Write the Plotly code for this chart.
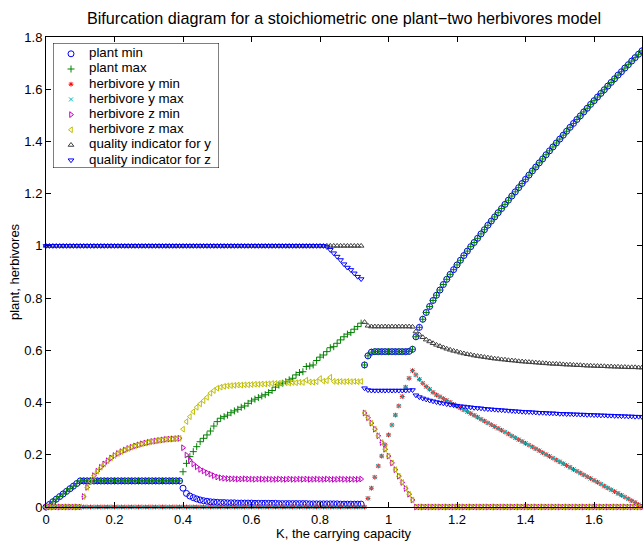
import plotly.graph_objects as go

# ---------------- data ----------------
K = [round(i * 0.01, 2) for i in range(175)]  # K = 0.00 ... 1.74

PLANT_MIN = (
    [0.00, 0.01, 0.02, 0.03, 0.04, 0.05, 0.06, 0.07, 0.08, 0.09, 0.10]
    + [0.10] * 29
    + [0.072, 0.052, 0.042, 0.036, 0.031, 0.027, 0.024, 0.022, 0.020, 0.019,
       0.018, 0.017, 0.017, 0.016, 0.016, 0.016, 0.015, 0.015, 0.015, 0.015,
       0.015, 0.014, 0.014, 0.014, 0.014, 0.014, 0.014, 0.014, 0.013, 0.013,
       0.013, 0.013, 0.013, 0.013, 0.013, 0.013, 0.013, 0.012, 0.012, 0.012,
       0.012, 0.012, 0.012, 0.012, 0.012, 0.012, 0.011, 0.011, 0.011, 0.011,
       0.011, 0.011, 0.011]
    + [0.544, 0.579, 0.593] + [0.595] * 10 + [0.596, 0.604]
    + [0.652, 0.688, 0.719, 0.745, 0.768, 0.791, 0.811, 0.831, 0.852, 0.872,
       0.891, 0.909, 0.927, 0.945, 0.963, 0.980, 0.997, 1.013, 1.029, 1.046,
       1.062, 1.079, 1.095, 1.111, 1.127, 1.143, 1.159, 1.175, 1.191, 1.207,
       1.223, 1.239, 1.255, 1.271, 1.287, 1.302, 1.318, 1.333, 1.349, 1.364,
       1.379, 1.394, 1.409, 1.424, 1.439, 1.454, 1.469, 1.484, 1.498, 1.513,
       1.527, 1.542, 1.556, 1.570, 1.584, 1.598, 1.612, 1.626, 1.640, 1.654,
       1.667, 1.681, 1.694, 1.708, 1.721, 1.734, 1.747]
)

PLANT_MAX = (
    PLANT_MIN[:40]
    + [0.135, 0.167, 0.193, 0.212, 0.231, 0.250, 0.263, 0.276, 0.291, 0.310,
       0.327, 0.340, 0.346, 0.352, 0.361, 0.368, 0.374, 0.382, 0.387, 0.397,
       0.406, 0.413, 0.419, 0.425, 0.430, 0.438, 0.446, 0.459, 0.467, 0.474,
       0.480, 0.487, 0.493, 0.506, 0.515, 0.518, 0.538, 0.540, 0.544, 0.561,
       0.574, 0.582, 0.595, 0.610, 0.614, 0.627, 0.640, 0.652, 0.662, 0.668,
       0.681, 0.691, 0.704]
    + PLANT_MIN[93:]
)

HERB_Y_MIN = (
    [0.0] * 94
    + [0.033, 0.072, 0.114, 0.157, 0.195, 0.238, 0.276, 0.314, 0.352, 0.387,
       0.423, 0.459, 0.493, 0.522]
    + [0.506, 0.489, 0.474, 0.461, 0.451, 0.439, 0.429,
       0.422, 0.415, 0.408, 0.401, 0.393, 0.386, 0.379, 0.372, 0.365, 0.358,
       0.351, 0.344, 0.336, 0.329, 0.322, 0.315, 0.308, 0.301, 0.294, 0.287,
       0.280, 0.272, 0.265, 0.258, 0.251, 0.244, 0.237, 0.230, 0.223, 0.216,
       0.208, 0.201, 0.194, 0.187, 0.180, 0.173, 0.166, 0.159, 0.152, 0.144,
       0.137, 0.130, 0.123, 0.116, 0.109, 0.102, 0.095, 0.088, 0.080, 0.073,
       0.066, 0.059, 0.052, 0.045, 0.038, 0.031, 0.024, 0.017, 0.009, 0.002]
)
HERB_Y_MAX = list(HERB_Y_MIN)

Z_LOW_BRANCH = [0.040, 0.075, 0.098, 0.120, 0.137, 0.152, 0.165, 0.177, 0.188, 0.197,
                0.205, 0.212, 0.218, 0.224, 0.229, 0.234, 0.238, 0.242, 0.245, 0.248,
                0.251, 0.253, 0.255, 0.257, 0.259, 0.260, 0.261, 0.262, 0.263]
Z_DROP_BRANCH = [0.360, 0.342, 0.321, 0.298, 0.273, 0.247, 0.221, 0.195, 0.169, 0.143,
                 0.118, 0.094, 0.071, 0.049, 0.027]

HERB_Z_MIN = (
    [0.0] * 11 + Z_LOW_BRANCH
    + [0.227, 0.199, 0.180, 0.165, 0.154, 0.144, 0.138, 0.131, 0.126, 0.120,
       0.115, 0.112, 0.110, 0.109, 0.108, 0.108, 0.107, 0.107, 0.108, 0.107,
       0.107, 0.106, 0.107, 0.107, 0.106, 0.107, 0.106, 0.106, 0.107, 0.106,
       0.106, 0.107, 0.106, 0.106, 0.107, 0.106, 0.107, 0.106, 0.106, 0.107,
       0.106, 0.106, 0.107, 0.106, 0.106, 0.106, 0.107, 0.106, 0.106, 0.106,
       0.106, 0.106, 0.107]
    + Z_DROP_BRANCH + [0.0] * 67
)

HERB_Z_MAX = (
    [0.0] * 11 + Z_LOW_BRANCH
    + [0.298, 0.327, 0.346, 0.365, 0.382, 0.395, 0.407, 0.420, 0.436, 0.446,
       0.455, 0.459, 0.462, 0.464, 0.465, 0.466, 0.467, 0.467, 0.468, 0.468,
       0.469, 0.470, 0.470, 0.471, 0.471, 0.472, 0.473, 0.473, 0.474, 0.474,
       0.476, 0.475, 0.477, 0.476, 0.478, 0.477, 0.486, 0.479, 0.478, 0.480,
       0.492, 0.482, 0.484, 0.497, 0.481, 0.480, 0.481, 0.480, 0.481, 0.480,
       0.481, 0.480, 0.481]
    + Z_DROP_BRANCH + [0.0] * 67
)

QUAL_Y = (
    [1.0] * 93
    + [0.708, 0.694] + [0.691] * 12 + [0.690]
    + [0.672, 0.660, 0.650, 0.641, 0.634, 0.627, 0.621, 0.616, 0.611, 0.606,
       0.602, 0.598, 0.595, 0.591, 0.588, 0.585, 0.583, 0.580, 0.578, 0.576,
       0.574, 0.572, 0.570, 0.568, 0.567, 0.565, 0.564, 0.562, 0.561, 0.560,
       0.558, 0.557, 0.556, 0.555, 0.554, 0.553, 0.552, 0.551, 0.550, 0.549,
       0.548, 0.548, 0.547, 0.546, 0.545, 0.545, 0.544, 0.543, 0.543, 0.542,
       0.541, 0.541, 0.540, 0.540, 0.539, 0.539, 0.538, 0.538, 0.537, 0.537,
       0.536, 0.536, 0.535, 0.535, 0.535, 0.534, 0.534]
)

QUAL_Z = (
    [1.0] * 82
    + [0.996, 0.985, 0.972, 0.959, 0.946, 0.930, 0.917, 0.908, 0.895, 0.882, 0.873]
    + [0.455, 0.448] + [0.446] * 11 + [0.447, 0.448]
    + [0.428, 0.421, 0.416, 0.412, 0.408, 0.405, 0.402, 0.399, 0.397, 0.394,
       0.392, 0.390, 0.388, 0.386, 0.385, 0.383, 0.382, 0.380, 0.379, 0.378,
       0.376, 0.375, 0.374, 0.373, 0.372, 0.371, 0.370, 0.369, 0.368, 0.367,
       0.366, 0.365, 0.364, 0.364, 0.363, 0.362, 0.361, 0.361, 0.360, 0.359,
       0.359, 0.358, 0.357, 0.357, 0.356, 0.356, 0.355, 0.355, 0.354, 0.354,
       0.353, 0.353, 0.352, 0.352, 0.351, 0.351, 0.350, 0.350, 0.349, 0.349,
       0.348, 0.348, 0.347, 0.347, 0.346, 0.346, 0.345]
)

SERIES_NAMES = ["plant min", "plant max", "herbivore y min", "herbivore y max",
                "herbivore z min", "herbivore z max",
                "quality indicator for y", "quality indicator for z"]

X_TICKS = [0, 0.2, 0.4, 0.6, 0.8, 1.0, 1.2, 1.4, 1.6]
X_TICK_LABELS = ["0", "0.2", "0.4", "0.6", "0.8", "1", "1.2", "1.4", "1.6"]
Y_TICKS = [0, 0.2, 0.4, 0.6, 0.8, 1.0, 1.2, 1.4, 1.6, 1.8]
Y_TICK_LABELS = ["0", "0.2", "0.4", "0.6", "0.8", "1", "1.2", "1.4", "1.6", "1.8"]

TITLE = "Bifurcation diagram for a stoichiometric one plant\u2212two herbivores model"
X_TITLE = "K, the carrying capacity"
Y_TITLE = "plant, herbivores"

# ---------------- styles ----------------
SERIES_DATA = [PLANT_MIN, PLANT_MAX, HERB_Y_MIN, HERB_Y_MAX,
               HERB_Z_MIN, HERB_Z_MAX, QUAL_Y, QUAL_Z]
SYMBOLS = ["circle-open", "cross-thin-open", "asterisk-open", "x-thin-open",
           "triangle-right-open", "triangle-left-open",
           "triangle-up-open", "triangle-down-open"]
COLORS = ["#0000FF", "#008000", "#FF0000", "#00BFBF",
          "#BF00BF", "#BFBF00", "#404040", "#0000FF"]
SIZES = [6, 5, 4, 4, 5, 5, 5, 5]

FONT = "Liberation Sans, Arial, Helvetica, sans-serif"
W, H = 643, 542
ML, MR, MT, MB = 46, 1, 37, 35
PW, PH = W - ML - MR, H - MT - MB

def paper_x(px):
    return (px - ML) / PW

def paper_y(py):
    return (H - MB - py) / PH

# legend box in pixels
LB_X0, LB_X1, LB_Y0, LB_Y1 = 53, 219, 43, 168
LB_W, LB_H = LB_X1 - LB_X0, LB_Y1 - LB_Y0
ROW0, ROW_STEP = 10.8, 15.2
MARK_X, TEXT_X = 18, 36

fig = go.Figure()

for name, ys, sym, col, sz in zip(SERIES_NAMES, SERIES_DATA, SYMBOLS, COLORS, SIZES):
    fig.add_trace(go.Scatter(
        x=K, y=ys, mode="markers", name=name, cliponaxis=False,
        marker=dict(symbol=sym, size=sz, color=col, line=dict(width=1, color=col)),
        showlegend=False, xaxis="x", yaxis="y"))

# custom legend drawn in its own small axes
rows = [ROW0 + ROW_STEP * i for i in range(len(SERIES_NAMES))]
for i, (sym, col, sz) in enumerate(zip(SYMBOLS, COLORS, SIZES)):
    fig.add_trace(go.Scatter(
        x=[MARK_X], y=[rows[i]], mode="markers", cliponaxis=False,
        marker=dict(symbol=sym, size=sz, color=col, line=dict(width=1, color=col)),
        showlegend=False, hoverinfo="skip", xaxis="x2", yaxis="y2"))
fig.add_trace(go.Scatter(
    x=[TEXT_X] * len(SERIES_NAMES), y=rows, mode="text", text=SERIES_NAMES,
    textposition="middle right", cliponaxis=False,
    textfont=dict(family=FONT, size=13.3, color="black"),
    showlegend=False, hoverinfo="skip", xaxis="x2", yaxis="y2"))

fig.add_shape(type="rect", xref="x2", yref="y2", x0=0, x1=LB_W, y0=0, y1=LB_H,
              line=dict(color="black", width=1), fillcolor="white", layer="below")

axis_common = dict(ticks="inside", ticklen=5, tickwidth=1, tickcolor="black",
                   showline=True, linecolor="black", linewidth=1, mirror="ticks",
                   showgrid=False, zeroline=False,
                   tickfont=dict(family=FONT, size=13, color="black"))

fig.update_layout(
    width=W, height=H,
    margin=dict(l=ML, r=MR, t=MT, b=MB, pad=0),
    paper_bgcolor="white", plot_bgcolor="white",
    font=dict(family=FONT, size=13, color="black"),
    showlegend=False,
    title=dict(text=TITLE, x=0.5, xref="paper", xanchor="center",
               y=1 - 18 / H, yref="container", yanchor="middle",
               font=dict(family=FONT, size=16.2, color="black")),
    xaxis=dict(range=[0, 1.74], tickvals=X_TICKS, ticktext=X_TICK_LABELS,
               domain=[0, 1], anchor="y", **axis_common),
    yaxis=dict(range=[0, 1.8], tickvals=Y_TICKS, ticktext=Y_TICK_LABELS,
               domain=[0, 1], anchor="x", **axis_common),
    xaxis2=dict(domain=[paper_x(LB_X0), paper_x(LB_X1)], range=[0, LB_W],
                anchor="y2", visible=False, fixedrange=True),
    yaxis2=dict(domain=[paper_y(LB_Y1), paper_y(LB_Y0)], range=[LB_H, 0],
                anchor="x2", visible=False, fixedrange=True),
    annotations=[
        dict(text=X_TITLE, xref="paper", yref="paper", x=0.5, y=paper_y(533),
             xanchor="center", yanchor="middle", showarrow=False,
             font=dict(family=FONT, size=13, color="black")),
        dict(text=Y_TITLE, xref="paper", yref="paper", x=paper_x(14), y=0.5,
             xanchor="center", yanchor="middle", textangle=-90, showarrow=False,
             font=dict(family=FONT, size=13, color="black")),
    ],
)

fig.write_html("out.html",
               config={"displayModeBar": False, "staticPlot": True},
               post_script="document.body.style.margin='0';"
                           "document.body.style.overflow='hidden';")
